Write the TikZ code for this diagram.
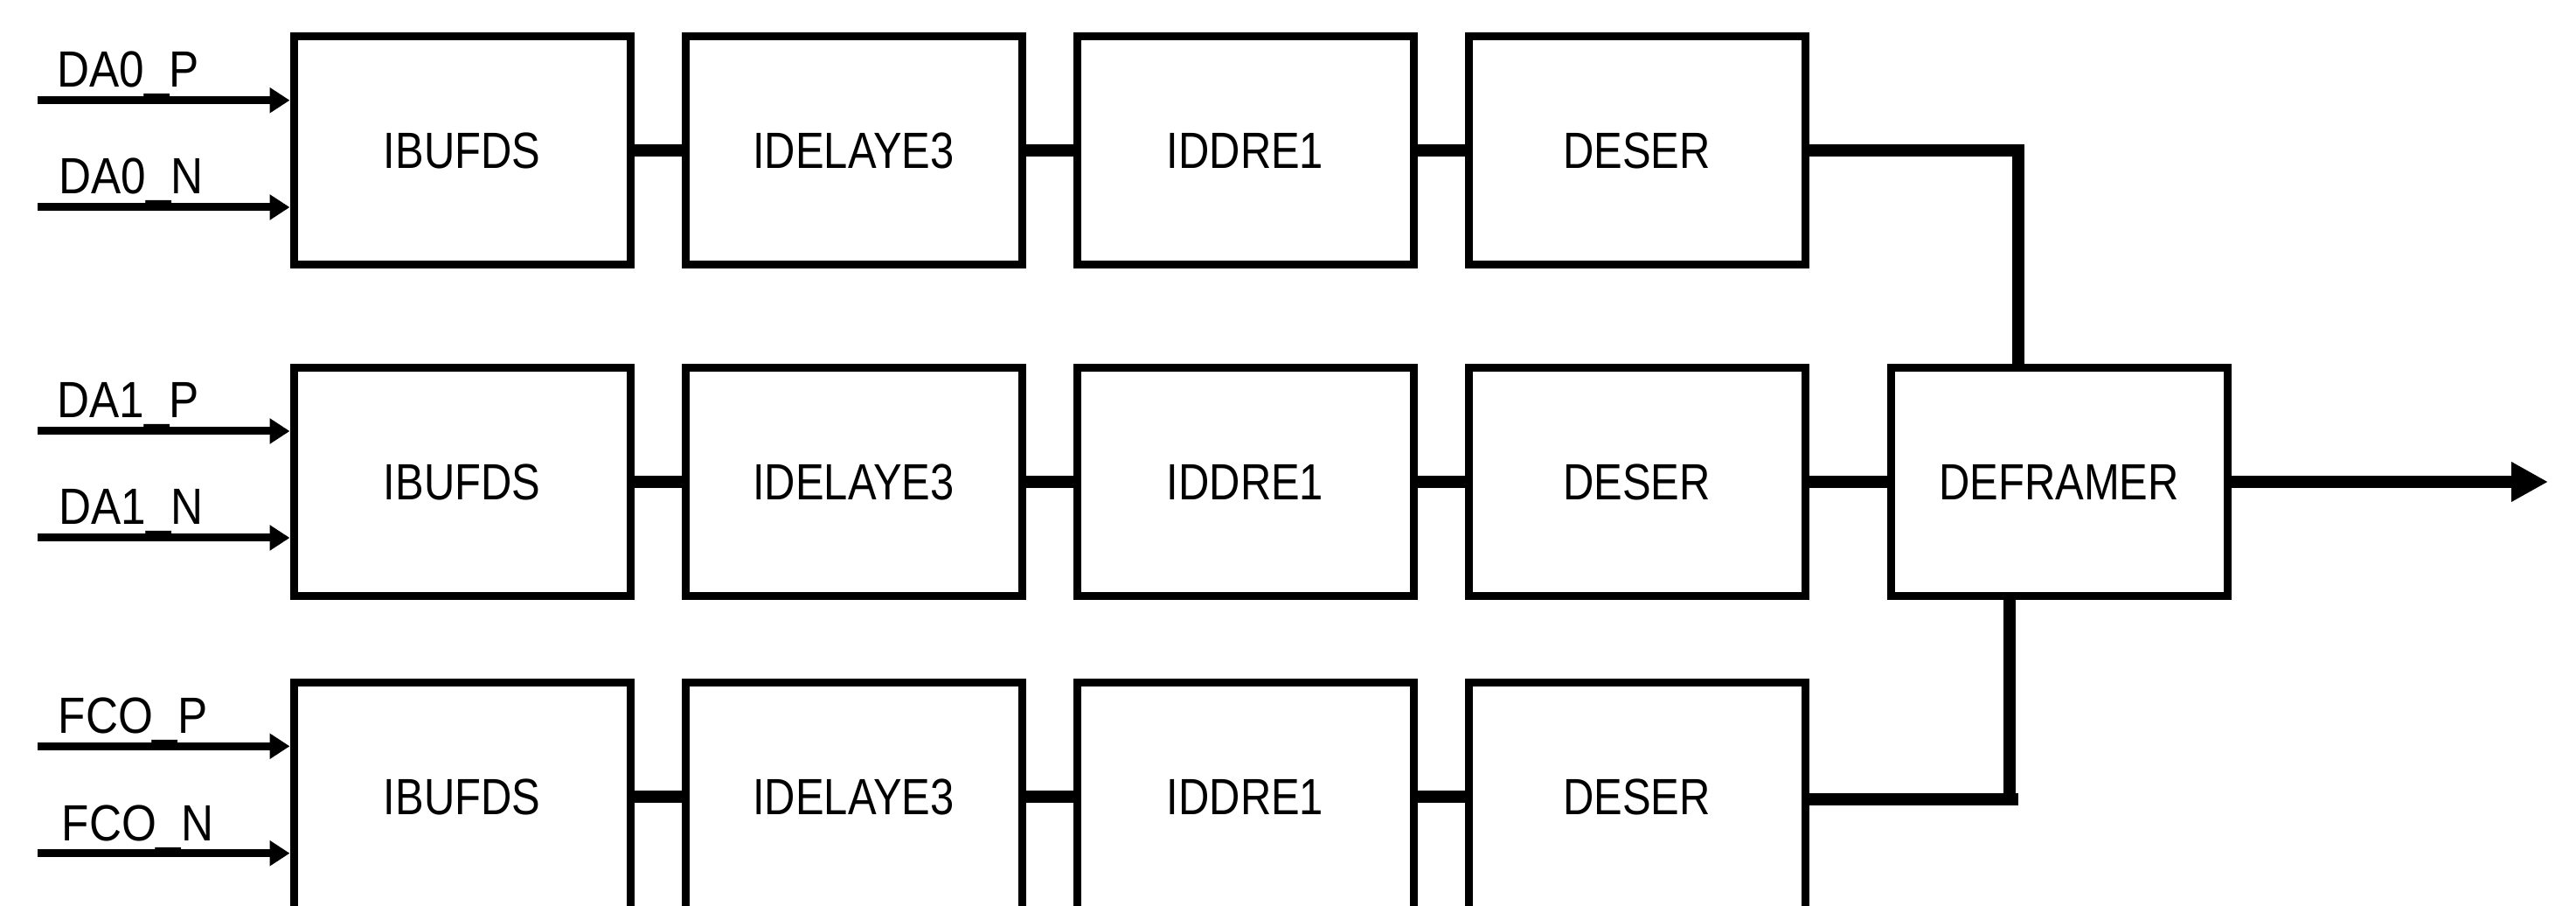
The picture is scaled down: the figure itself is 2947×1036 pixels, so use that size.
\documentclass[tikz,border=0pt]{standalone}
\usepackage{fontspec}
\setmainfont{Liberation Sans}[FakeStretch=0.84]
\newfontfamily\lblfont{Liberation Sans}[FakeStretch=0.88]
\usetikzlibrary{arrows.meta}
\begin{document}
\begin{tikzpicture}[x=0.25pt,y=-0.25pt,
  blk/.style={draw, line width=2.25pt, minimum width=96.25pt, minimum height=65.25pt,
    inner sep=0pt, font=\fontsize{14.56pt}{17pt}\selectfont},
  lbl/.style={anchor=base west, inner sep=0pt, font=\lblfont\fontsize{14.56pt}{17pt}\selectfont},
  inarr/.style={line width=2.25pt, -{Triangle[length=5.75pt,width=7pt]}},
  link/.style={line width=3.5pt},
  outarr/.style={line width=3.5pt, -{Triangle[length=10.5pt,width=10.7pt]}}]
\fill[white] (0,0) rectangle (2947,1036);
\useasboundingbox (0,0) rectangle (2947,1036);
\clip (0,0) rectangle (2947,1036);
% row 1
\node[blk] (A1) at (528.5,172) {IBUFDS};
\node[blk] (B1) at (976.5,172) {IDELAYE3};
\node[blk] (C1) at (1424.5,172) {IDDRE1};
\node[blk] (D1) at (1872.5,172) {DESER};
% row 2
\node[blk] (A2) at (528.5,551) {IBUFDS};
\node[blk] (B2) at (976.5,551) {IDELAYE3};
\node[blk] (C2) at (1424.5,551) {IDDRE1};
\node[blk] (D2) at (1872.5,551) {DESER};
% row 3
\node[blk] (A3) at (528.5,911) {IBUFDS};
\node[blk] (B3) at (976.5,911) {IDELAYE3};
\node[blk] (C3) at (1424.5,911) {IDDRE1};
\node[blk] (D3) at (1872.5,911) {DESER};
% deframer
\node[blk] (F) at (2355.6,551) {DEFRAMER};
% links
\draw[link] (A1.east) -- (B1.west);
\draw[link] (B1.east) -- (C1.west);
\draw[link] (C1.east) -- (D1.west);
\draw[link] (A2.east) -- (B2.west);
\draw[link] (B2.east) -- (C2.west);
\draw[link] (C2.east) -- (D2.west);
\draw[link] (A3.east) -- (B3.west);
\draw[link] (B3.east) -- (C3.west);
\draw[link] (C3.east) -- (D3.west);
\draw[link] (D2.east) -- (F.west);
\coordinate (t1) at (2308.7,172);
\coordinate (t3) at (2299,914);
\coordinate (t3e) at (2309,914);
\coordinate (t3b) at (2299,921);
\draw[link] (D1.east) -- (t1) -- (t1 |- F.north);
\draw[link] (D3.east |- t3) -- (t3e);
\draw[link] (t3 |- F.south) -- (t3b);
\coordinate (out) at (2915,551);
\draw[outarr] (F.east) -- (out);
% inputs
\coordinate (p1) at (43.3,114.7);
\coordinate (n1) at (43.3,237);
\coordinate (p2) at (43.3,493);
\coordinate (n2) at (43.3,615);
\coordinate (p3) at (43.3,853.3);
\coordinate (n3) at (43.3,975.7);
\draw[inarr] (p1) -- (p1 -| A1.west);
\draw[inarr] (n1) -- (n1 -| A1.west);
\draw[inarr] (p2) -- (p2 -| A2.west);
\draw[inarr] (n2) -- (n2 -| A2.west);
\draw[inarr] (p3) -- (p3 -| A3.west);
\draw[inarr] (n3) -- (n3 -| A3.west);
\node[lbl] (lp1) at (65,99.5) {DA0\_P};
\node[lbl] (ln1) at (67,221.5) {DA0\_N};
\node[lbl] (lp2) at (65,477.5) {DA1\_P};
\node[lbl] (ln2) at (67,599.5) {DA1\_N};
\node[lbl] (lp3) at (66,838.5) {FCO\_P};
\node[lbl] (ln3) at (70,961) {FCO\_N};
\end{tikzpicture}
\end{document}
